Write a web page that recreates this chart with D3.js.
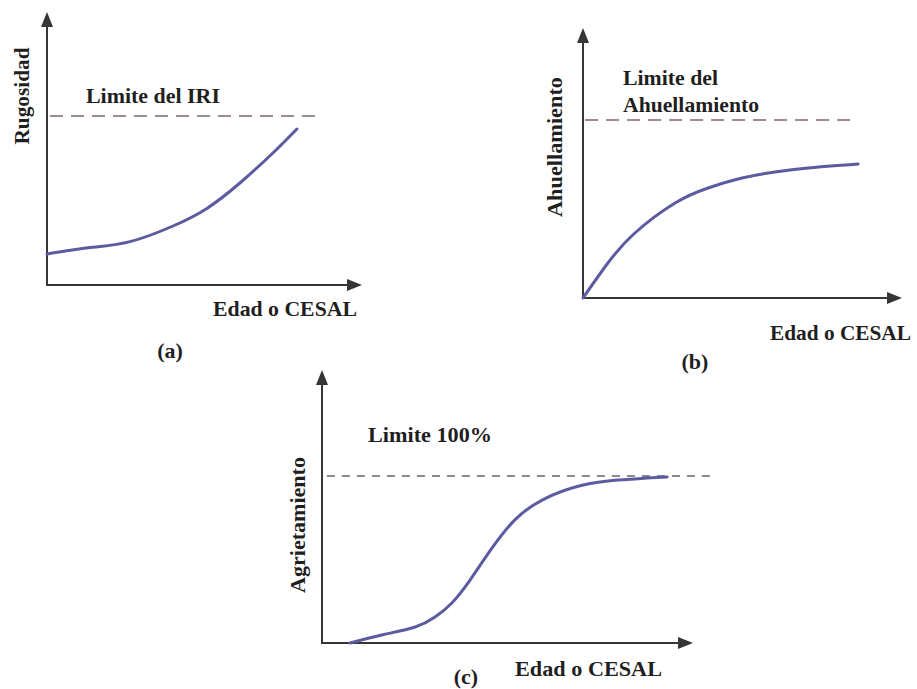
<!DOCTYPE html>
<html>
<head>
<meta charset="utf-8">
<script src="https://cdn.jsdelivr.net/npm/d3@7"></script>
<style>
  html, body { margin: 0; padding: 0; background: #ffffff; }
  svg { display: block; }
  text { font-family: "Liberation Serif", "DejaVu Serif", serif; font-weight: bold; fill: #1f1f1f; }
</style>
</head>
<body>
<svg id="chart" width="917" height="689"></svg>
<script>
// Shared axis caption
const xAxisLabel = "Edad o CESAL";

// (a) Roughness (IRI) growth with age / traffic
const rugosidadEdad  = [0, 14.3, 27.7, 42, 53.3, 64.3, 75.3, 83.3];
const rugosidadValor = [15.5, 18.7, 21.7, 29.5, 38.3, 51, 66, 78];
const rugosidadLimite = 84.5;
const rugosidadLimiteTramo = [1, 89.3];

// (b) Rutting growth with age / traffic
const ahuellamientoEdad  = [0, 8.3, 17.3, 30.7, 41.7, 53, 64, 75, 91.7];
const ahuellamientoValor = [0, 17.5, 32.5, 47.5, 55, 60, 63, 65, 67];
const ahuellamientoLimite = 89;
const ahuellamientoLimiteTramo = [0.7, 89.7];

// (c) Cracking (% of area) growth with age / traffic
const agrietamientoEdad  = [8, 17.1, 26.6, 32.3, 37.1, 42.3, 48.0, 55.1, 62.9, 71.4, 81.7, 98.6];
const agrietamientoValor = [0, 4.8, 9.6, 15.6, 24.0, 37.7, 55.1, 73.7, 85.6, 92.8, 97, 99.4];
const agrietamientoLimite = 100;
const agrietamientoLimiteTramo = [1.4, 111.7];

const panels = [
  {
    x: rugosidadEdad, y: rugosidadValor, limit: rugosidadLimite, limitSpan: rugosidadLimiteTramo,
    origin: [47, 285], xPx: 300, yPx: 200, xTip: 362, yTip: 12,
    dash: "13,8", dashColor: "#9d8b8e",
    yLabel: { text: "Rugosidad", x: 29, y: 96, len: 97 },
    limitText: [{ text: "Limite del IRI", x: 86, y: 103, len: 134 }],
    xText: { x: 213, y: 316, len: 144 },
    tag: { text: "(a)", x: 170, y: 358 }
  },
  {
    x: ahuellamientoEdad, y: ahuellamientoValor, limit: ahuellamientoLimite, limitSpan: ahuellamientoLimiteTramo,
    origin: [583, 298], xPx: 300, yPx: 200, xTip: 902, yTip: 28,
    dash: "13,8", dashColor: "#9d8b8e",
    yLabel: { text: "Ahuellamiento", x: 562, y: 147, len: 140 },
    limitText: [
      { text: "Limite del", x: 623, y: 85, len: 95 },
      { text: "Ahuellamiento", x: 623, y: 112, len: 136 }
    ],
    xText: { x: 770, y: 340, len: 141 },
    tag: { text: "(b)", x: 695, y: 369 }
  },
  {
    x: agrietamientoEdad, y: agrietamientoValor, limit: agrietamientoLimite, limitSpan: agrietamientoLimiteTramo,
    origin: [322, 643], xPx: 350, yPx: 167, xTip: 693, yTip: 370,
    dash: "8,7", dashColor: "#8f8791",
    yLabel: { text: "Agrietamiento", x: 305, y: 525, len: 136 },
    limitText: [{ text: "Limite 100%", x: 368, y: 442, len: 124 }],
    xText: { x: 515, y: 676, len: 147 },
    tag: { text: "(c)", x: 466, y: 684 }
  }
];

const svg = d3.select("#chart");
const axisColor = "#363636";
const curveColor = "#5d5ba0";
const fontSize = 22;

panels.forEach(p => {
  const [ox, oy] = p.origin;
  const xs = d3.scaleLinear().domain([0, 100]).range([ox, ox + p.xPx]);
  const ys = d3.scaleLinear().domain([0, 100]).range([oy, oy - p.yPx]);
  const g = svg.append("g");

  // limit line (dashed)
  g.append("line")
    .attr("x1", xs(p.limitSpan[0])).attr("x2", xs(p.limitSpan[1]))
    .attr("y1", ys(p.limit)).attr("y2", ys(p.limit))
    .attr("stroke", p.dashColor).attr("stroke-width", 2)
    .attr("stroke-dasharray", p.dash);

  // axes with arrowheads
  const ah = 15, aw = 6;
  g.append("line").attr("x1", ox).attr("y1", oy).attr("x2", p.xTip - ah + 2).attr("y2", oy)
    .attr("stroke", axisColor).attr("stroke-width", 2);
  g.append("line").attr("x1", ox).attr("y1", oy + 1).attr("x2", ox).attr("y2", p.yTip + ah - 2)
    .attr("stroke", axisColor).attr("stroke-width", 2);
  g.append("path")
    .attr("d", `M${p.xTip},${oy} L${p.xTip - ah},${oy - aw} L${p.xTip - ah},${oy + aw} Z`)
    .attr("fill", axisColor);
  g.append("path")
    .attr("d", `M${ox},${p.yTip} L${ox - aw},${p.yTip + ah} L${ox + aw},${p.yTip + ah} Z`)
    .attr("fill", axisColor);

  // deterioration curve
  const pts = p.x.map((v, i) => [v, p.y[i]]);
  const line = d3.line().x(d => xs(d[0])).y(d => ys(d[1])).curve(d3.curveNatural);
  g.append("path").datum(pts)
    .attr("d", line)
    .attr("fill", "none")
    .attr("stroke", curveColor)
    .attr("stroke-width", 3)
    .attr("stroke-linecap", "round");

  // texts
  g.append("text")
    .attr("transform", `translate(${p.yLabel.x},${p.yLabel.y}) rotate(-90)`)
    .attr("text-anchor", "middle")
    .attr("font-size", fontSize)
    .attr("textLength", p.yLabel.len).attr("lengthAdjust", "spacingAndGlyphs")
    .text(p.yLabel.text);

  p.limitText.forEach(t => {
    g.append("text").attr("x", t.x).attr("y", t.y)
      .attr("font-size", fontSize)
      .attr("textLength", t.len).attr("lengthAdjust", "spacingAndGlyphs")
      .text(t.text);
  });

  g.append("text").attr("x", p.xText.x).attr("y", p.xText.y)
    .attr("font-size", fontSize)
    .attr("textLength", p.xText.len).attr("lengthAdjust", "spacingAndGlyphs")
    .text(xAxisLabel);

  g.append("text").attr("x", p.tag.x).attr("y", p.tag.y)
    .attr("text-anchor", "middle")
    .attr("font-size", fontSize)
    .text(p.tag.text);
});
</script>
</body>
</html>
